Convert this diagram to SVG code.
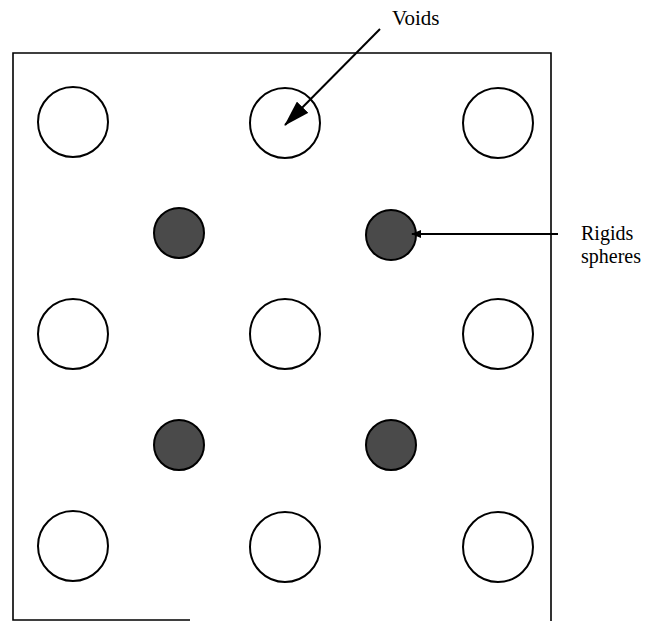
<svg xmlns="http://www.w3.org/2000/svg" width="649" height="621" viewBox="0 0 649 621">
<style>
.void{fill:none;stroke:#000;stroke-width:2}
.rigid{fill:#4a4a4a;stroke:#000;stroke-width:2}
.frame{fill:none;stroke:#000;stroke-width:1.6}
.lbl{font-family:"Liberation Serif","Times New Roman",serif;font-size:21px;fill:#000}
.lbl2{font-family:"Liberation Serif","Times New Roman",serif;font-size:20px;fill:#000}
.conn{stroke:#000;stroke-width:2;fill:none}
</style>
<defs>
<marker id="ah" markerWidth="10" markerHeight="8" refX="9" refY="4" orient="auto" markerUnits="userSpaceOnUse" viewBox="0 0 10 8">
<path d="M0,0 L10,4 L0,8 z" fill="#000"/>
</marker>
<marker id="ah2" markerWidth="26" markerHeight="16" refX="25" refY="8" orient="auto" markerUnits="userSpaceOnUse" viewBox="0 0 26 16">
<path d="M0,0 L26,8 L0,16 z" fill="#000"/>
</marker>
</defs>
<g id="frame">
<path class="frame" d="M190,620 L13,620 L13,53 L551,53 L551,621"/>
</g>
<g id="voids">
<circle id="v1" class="void" cx="73" cy="122" r="35"/>
<circle id="v2" class="void" cx="285" cy="123" r="35"/>
<circle id="v3" class="void" cx="498" cy="123" r="35"/>
<circle id="v4" class="void" cx="73" cy="334" r="35"/>
<circle id="v5" class="void" cx="285" cy="334" r="35"/>
<circle id="v6" class="void" cx="498" cy="334" r="35"/>
<circle id="v7" class="void" cx="73" cy="546" r="35"/>
<circle id="v8" class="void" cx="285" cy="547" r="35"/>
<circle id="v9" class="void" cx="498" cy="547" r="35"/>
</g>
<g id="rigids">
<circle id="r1" class="rigid" cx="179" cy="233" r="25"/>
<circle id="r2" class="rigid" cx="391" cy="235" r="25"/>
<circle id="r3" class="rigid" cx="179" cy="445" r="25"/>
<circle id="r4" class="rigid" cx="391" cy="445" r="25"/>
</g>
<g id="connectors">
<line class="conn" x1="380" y1="29" x2="285" y2="125" marker-end="url(#ah2)"/>
<line class="conn" x1="558" y1="234" x2="412" y2="234" marker-end="url(#ah)"/>
</g>
<g id="labels">
<text class="lbl" x="392" y="25">Voids</text>
<text class="lbl2" x="581" y="240">Rigids</text>
<text class="lbl2" x="581" y="263">spheres</text>
</g>
</svg>
